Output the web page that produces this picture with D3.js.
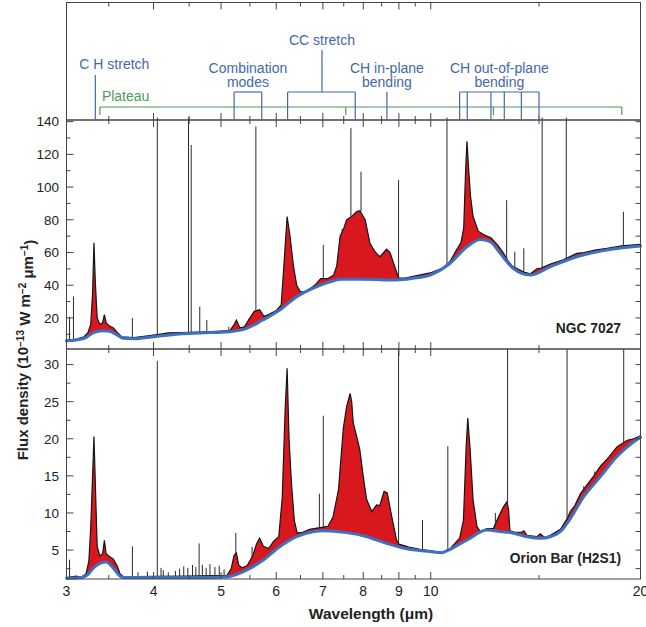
<!DOCTYPE html>
<html>
<head>
<meta charset="utf-8">
<script src="https://cdn.jsdelivr.net/npm/d3@7"></script>
<style>
  body { margin: 0; background: #fff; }
  text { font-family: "Liberation Sans", Arial, Helvetica, sans-serif; }
</style>
</head>
<body>
<svg width="646" height="627"></svg>
<script>
// ---- axis ticks ----
var xLabels = [3, 4, 5, 6, 7, 8, 9, 10, 20];
var xMajor = [4, 5, 6, 7, 8, 9, 10, 20];
var xMinor = [3.45, 4.5, 5.5, 6.5, 7.5, 8.5, 9.5, 14.3];
var ngcLabels = [20, 40, 60, 80, 100, 120, 140];
var ngcMinor = [10, 30, 50, 70, 90, 110, 130];
var orionLabels = [5, 10, 15, 20, 25, 30];
var orionMinor = [2.5, 7.5, 12.5, 17.5, 22.5, 27.5];

// ---- NGC 7027 : [wavelength um, flux] ----
var ngcContinuum = [[3.0,6],[3.1,6.5],[3.2,8],[3.28,11],[3.38,12.2],[3.46,11.8],[3.55,9.5],[3.62,7.5],
  [3.75,7.2],[4.0,8.5],[4.36,10.2],[4.66,10.8],[5.15,11.6],[5.44,13.6],[5.74,18.7],[6.07,24.8],
  [6.42,33],[6.77,38.1],[7.17,42.1],[7.41,43.6],[8.0,43.6],[8.94,43.2],[9.43,44.2],[9.98,46.2],
  [10.66,53.4],[11.27,63.5],[11.78,68],[12.17,66.6],[12.58,59.5],[13.13,50.3],[13.89,46.2],
  [14.85,51.3],[16.2,57.4],[17.9,61.5],[20,64]];
var ngcSpectrum = [[3.0,6.5],[3.1,7],[3.18,8.5],[3.22,11],[3.25,16],[3.27,35],[3.285,66],[3.30,42],
  [3.32,20],[3.35,16],[3.38,17],[3.40,22],[3.42,17],[3.46,15],[3.5,14],[3.55,11],[3.6,8.5],
  [3.75,8],[3.9,8.9],[4.05,9.8],[4.2,10.8],[4.36,11],[4.66,11.4],[5.0,12],[5.15,12.2],[5.22,16],
  [5.26,18.7],[5.32,14],[5.40,14.5],[5.5,20],[5.58,24],[5.68,25],[5.76,21],[5.85,22],[6.0,24.5],
  [6.1,28],[6.16,55],[6.22,82],[6.28,70],[6.35,52],[6.42,40],[6.5,36],[6.6,36],[6.77,39],[6.85,41],
  [6.95,44],[7.1,44],[7.25,46],[7.33,52],[7.41,70],[7.49,74],[7.57,80],[7.7,82],[7.83,85],[7.91,85.5],
  [8.05,80],[8.18,65.6],[8.3,61],[8.36,59.5],[8.45,57.4],[8.56,60],[8.64,62],[8.74,60],[8.89,50.5],
  [8.99,44.5],[9.2,44.3],[9.43,45.5],[9.98,47.5],[10.4,50.5],[10.66,54.5],[10.9,62],[11.05,66],
  [11.15,75],[11.22,110],[11.27,128],[11.33,112],[11.4,95],[11.5,82],[11.7,73],[11.9,71],[12.2,69],
  [12.5,64],[12.7,60],[12.9,55],[13.1,51.5],[13.4,49.5],[13.6,48],[13.9,47],[14.2,50],[14.4,50.5],
  [14.85,53],[15.5,55.5],[16.2,59.5],[16.6,60],[17.2,61.5],[17.9,62.5],[18.8,64],[20,65]];
// emission lines : [wavelength, base, peak]
var ngcLines = [[3.03,6.3,20.7],[3.07,6.5,33],[3.73,7.8,19.9],[4.05,9.5,142.5],[4.49,10.8,142.5],
  [4.53,10.8,125.7],[4.66,11.2,26.9],[4.77,11.3,18.7],[5.13,12,14.6],[5.61,24,137],[7.01,44,64.6],
  [7.46,72,74.6],[7.68,82,136],[7.94,85,109.4],[8.99,44.5,104.3],[10.55,52,142.5],[12.85,56,92],
  [13.2,50.5,60.5],[13.6,48,62.6],[14.45,50.5,142.5],[15.65,55.5,142.5],[18.9,64,84.9]];

// ---- Orion Bar (H2S1) ----
var orionContinuum = [[3.0,1.2],[3.15,1.3],[3.21,1.6],[3.28,2.6],[3.35,3.2],[3.42,3.4],[3.5,2.6],
  [3.57,1.6],[3.62,1.3],[4.0,1.3],[4.4,1.3],[4.8,1.3],[5.1,1.4],[5.44,2.3],[5.75,3.66],[6.07,5.45],
  [6.42,6.8],[6.8,7.5],[7.0,7.6],[7.57,7.35],[8.1,6.8],[8.64,5.9],[9.2,5.2],[9.98,4.8],[10.37,4.65],
  [10.66,5.1],[11.27,6.35],[12.04,7.7],[12.58,7.5],[13.1,7.3],[13.74,6.8],[14.4,6.6],[14.85,6.8],
  [15.35,7.5],[15.69,8.6],[16.58,12.2],[17.52,14.9],[18.5,17.6],[19.56,19.6],[20,20.2]];
var orionSpectrum = [[3.0,1.3],[3.1,1.5],[3.15,1.3],[3.2,1.8],[3.23,3.5],[3.25,8],[3.27,15],
  [3.285,20.3],[3.30,14],[3.32,5.5],[3.35,4.2],[3.38,4.5],[3.40,6.3],[3.42,4.5],[3.46,4.1],[3.5,3.8],
  [3.55,2.8],[3.58,1.8],[3.62,1.4],[4.0,1.45],[4.5,1.5],[5.1,1.6],[5.17,2.5],[5.22,4.3],[5.26,4.6],
  [5.3,3.0],[5.36,2.6],[5.45,2.9],[5.55,4.2],[5.62,5.8],[5.68,6.6],[5.75,5.5],[5.85,5.2],[5.95,6.2],
  [6.05,6.8],[6.12,12],[6.18,24],[6.22,29.5],[6.26,20],[6.31,14],[6.37,9],[6.43,7.3],[6.55,7.4],
  [6.7,7.8],[6.9,8.0],[7.12,8.2],[7.24,9.5],[7.37,13.1],[7.49,21.4],[7.57,24.3],[7.66,26.1],[7.7,25],
  [7.74,22.1],[7.83,20.3],[7.91,18.5],[8.0,14.9],[8.09,11.8],[8.23,10.2],[8.36,11.1],[8.45,11],
  [8.57,12.9],[8.66,12.7],[8.79,9.5],[8.93,6.35],[9.0,5.8],[9.3,5.4],[9.65,5.1],[10.0,4.9],
  [10.37,4.7],[10.66,5.2],[11.0,6.6],[11.14,9.05],[11.24,18.9],[11.3,22.8],[11.39,18.5],[11.5,11.75],
  [11.65,8.15],[11.78,7.5],[12.04,7.9],[12.3,7.9],[12.51,9.5],[12.72,10.85],[12.86,11.5],[12.93,10.5],
  [12.99,7.6],[13.2,7.4],[13.5,7.4],[13.6,7.6],[13.74,7.0],[14.2,6.8],[14.36,7.2],[14.57,6.7],
  [14.85,7.0],[15.35,7.8],[15.69,9.2],[15.86,10.2],[16.1,11],[16.4,12.6],[16.58,13.2],[17.14,15],
  [17.52,16.3],[18.0,17.5],[18.5,18.9],[19.14,19.8],[19.56,20.0],[20,20.4]];
var orionLines = [[3.03,1.3,3.7],[3.73,1.4,5.5],[3.80,1.4,2.0],[3.92,1.4,2.1],[4.05,1.45,30.5],
  [4.10,1.45,2.6],[4.13,1.45,2.3],[4.2,1.45,2.0],[4.3,1.45,2.2],[4.36,1.45,2.5],[4.42,1.5,2.8],
  [4.48,1.5,2.6],[4.55,1.5,3.0],[4.6,1.5,2.7],[4.65,1.5,5.9],[4.7,1.5,3.0],[4.76,1.5,2.6],
  [4.82,1.5,3.1],[4.9,1.5,2.7],[4.97,1.5,2.9],[5.05,1.6,2.4],[5.25,4.5,7.3],[5.54,4,5.45],
  [6.92,8,12.6],[7.01,8,23.1],[8.99,5.8,32.1],[9.73,5.1,9.05],[10.58,4.9,19],[12.38,8.2,10],
  [12.89,11,32.1],[15.69,9,32.1],[16.58,13,13.6],[17.19,15,15.6],[18.92,19.5,32.1]];

// ---- band annotations (wavelengths) ----
var chStretch = 3.3;
var plateau = [3.35, 18.8];
var plateauTicks = [7.55, 12.3];
var comboModes = [5.22, 5.72];
var ccStretch = [6.23, 7.79];
var ccStem = 6.98;
var chInPlane = 8.65;
var chOutOfPlane = [11.0, 11.28, 12.2, 12.75, 13.49, 14.3];

var svg = d3.select("svg"),
    left = 66.5, right = 640.5,
    annTop = 2.5, p1Top = 120, p1Bot = 349, p2Bot = 579;

var x = d3.scaleLog().domain([3, 20]).range([left, right]);
var y1 = d3.scaleLinear().domain([1, 141]).range([p1Bot, p1Top]);
var y2 = d3.scaleLinear().domain([1.1, 32.1]).range([p2Bot, p1Bot]);

var blue = "#4369a8", green = "#4f9a5c", ink = "#222";

//draw one spectrum panel
function drawPanel(y, spec, cont, lines, name, nameY) {
  var g = svg.append("g");
  var lin = d3.line().x(function(d) { return x(d[0]); }).y(function(d) { return y(d[1]); });
  var smooth = d3.line().curve(d3.curveMonotoneX)
      .x(function(d) { return x(d[0]); }).y(function(d) { return y(d[1]); });

  // red fill between spectrum and continuum
  g.append("path")
      .attr("d", lin(spec) + smooth(cont.slice().reverse()).replace(/^M/, "L") + "Z")
      .attr("fill", "#d8181e");
  g.append("path").datum(spec).attr("d", lin)
      .attr("fill", "none").attr("stroke", "#151515").attr("stroke-width", 1.2);
  g.selectAll("line.em").data(lines).enter().append("line")
      .attr("class", "em")
      .attr("x1", function(d) { return x(d[0]); }).attr("x2", function(d) { return x(d[0]); })
      .attr("y1", function(d) { return y(d[1]); }).attr("y2", function(d) { return y(d[2]); })
      .attr("stroke", "#2a2a2a").attr("stroke-width", 1);
  g.append("path").datum(cont).attr("d", smooth)
      .attr("fill", "none").attr("stroke", "#3d6fc2").attr("stroke-width", 3)
      .attr("stroke-linecap", "round");

  svg.append("text")
      .attr("x", 621).attr("y", nameY)
      .attr("text-anchor", "end")
      .style("font-size", "13.8px").style("font-weight", "bold").style("fill", ink)
      .text(name);
}

drawPanel(y1, ngcSpectrum, ngcContinuum, ngcLines, "NGC 7027", 333);
drawPanel(y2, orionSpectrum, orionContinuum, orionLines, "Orion Bar (H2S1)", 563);

// frames
[[annTop, p1Top], [p1Top, p1Bot], [p1Bot, p2Bot]].forEach(function(b) {
  svg.append("rect")
      .attr("x", left).attr("y", b[0])
      .attr("width", right - left).attr("height", b[1] - b[0])
      .attr("fill", "none").attr("stroke", "#444").attr("stroke-width", 1);
});

// x ticks, inward on every box edge
var axisG = svg.append("g").attr("stroke", "#444").attr("stroke-width", 1);
function xTicks(yTop, yBot) {
  xMajor.forEach(function(v) {
    axisG.append("line").attr("x1", x(v)).attr("x2", x(v)).attr("y1", yTop).attr("y2", yTop + 7);
    axisG.append("line").attr("x1", x(v)).attr("x2", x(v)).attr("y1", yBot).attr("y2", yBot - 7);
  });
  xMinor.forEach(function(v) {
    axisG.append("line").attr("x1", x(v)).attr("x2", x(v)).attr("y1", yTop).attr("y2", yTop + 4);
    axisG.append("line").attr("x1", x(v)).attr("x2", x(v)).attr("y1", yBot).attr("y2", yBot - 4);
  });
}
xTicks(annTop, p1Top);
xTicks(p1Top, p1Bot);
xTicks(p1Bot, p2Bot);

// y ticks and labels
function yTicks(y, labels, minor) {
  labels.forEach(function(v) {
    axisG.append("line").attr("x1", left).attr("x2", left + 7).attr("y1", y(v)).attr("y2", y(v));
    axisG.append("line").attr("x1", right).attr("x2", right - 5).attr("y1", y(v)).attr("y2", y(v));
    svg.append("text")
        .attr("x", 59).attr("y", y(v)).attr("dy", "0.36em")
        .attr("text-anchor", "end")
        .style("font-size", "13.5px").style("fill", ink)
        .text(v);
  });
  minor.forEach(function(v) {
    axisG.append("line").attr("x1", left).attr("x2", left + 4).attr("y1", y(v)).attr("y2", y(v));
    axisG.append("line").attr("x1", right).attr("x2", right - 5).attr("y1", y(v)).attr("y2", y(v));
  });
}
yTicks(y1, ngcLabels, ngcMinor);
yTicks(y2, orionLabels, orionMinor);

// x tick labels
xLabels.forEach(function(v) {
  svg.append("text")
      .attr("x", x(v)).attr("y", 596)
      .attr("text-anchor", "middle")
      .style("font-size", "14px").style("fill", ink)
      .text(v);
});

// axis titles
svg.append("text")
    .attr("x", 371).attr("y", 619)
    .attr("text-anchor", "middle")
    .style("font-size", "15.5px").style("font-weight", "bold").style("fill", ink)
    .text("Wavelength (\u03bcm)");

var yt = svg.append("text")
    .attr("transform", "translate(28,350) rotate(-90)")
    .attr("text-anchor", "middle")
    .style("font-size", "15px").style("font-weight", "bold").style("fill", ink);
yt.append("tspan").text("Flux density (10");
yt.append("tspan").attr("dy", "-0.45em").style("font-size", "10px").text("\u221213");
yt.append("tspan").attr("dy", "0.45em").text(" W m");
yt.append("tspan").attr("dy", "-0.45em").style("font-size", "10px").text("\u22122");
yt.append("tspan").attr("dy", "0.45em").text(" \u03bcm");
yt.append("tspan").attr("dy", "-0.45em").style("font-size", "10px").text("\u22121");
yt.append("tspan").attr("dy", "0.45em").text(")");

// ---- band annotations ----
var ann = svg.append("g").attr("fill", "none").attr("stroke-width", 1.2);
function seg(x1, y1_, x2, y2_, col) {
  ann.append("line").attr("x1", x1).attr("y1", y1_).attr("x2", x2).attr("y2", y2_).attr("stroke", col);
}
// one text element, one tspan per line
function label(lines, cx, by, col, anchor) {
  var t = svg.append("text")
      .attr("x", cx).attr("y", by)
      .attr("text-anchor", anchor || "middle")
      .style("font-size", "14px").style("fill", col);
  lines.forEach(function(s, i) {
    t.append("tspan").attr("x", cx).attr("dy", i ? 13.5 : 0).text(s);
  });
}
function bracket(a, b) {
  seg(x(a), 120, x(a), 92, blue);
  seg(x(a), 92, x(b), 92, blue);
  seg(x(b), 92, x(b), 120, blue);
}

// plateau (green)
seg(x(plateau[0]), 107, x(plateau[1]), 107, green);
plateau.concat(plateauTicks).forEach(function(v) { seg(x(v), 107, x(v), 115, green); });
label(["Plateau"], x(plateau[0]) + 2, 101, green, "start");

// CH stretch
seg(x(chStretch), 75, x(chStretch), 120, blue);
label(["C H stretch"], x(chStretch) + 19, 69, blue);

// combination modes
bracket(comboModes[0], comboModes[1]);
label(["Combination", "modes"], x(Math.sqrt(comboModes[0] * comboModes[1])), 73, blue);

// CC stretch
bracket(ccStretch[0], ccStretch[1]);
seg(x(ccStem), 50, x(ccStem), 92, blue);
label(["CC stretch"], x(ccStem), 45, blue);

// CH in-plane bending
seg(x(chInPlane), 92, x(chInPlane), 120, blue);
label(["CH in-plane", "bending"], x(chInPlane), 73, blue);

// CH out-of-plane bending
bracket(chOutOfPlane[0], chOutOfPlane[chOutOfPlane.length - 1]);
chOutOfPlane.slice(1, -1).forEach(function(v) { seg(x(v), 92, x(v), 120, blue); });
label(["CH out-of-plane", "bending"],
      (x(chOutOfPlane[0]) + x(chOutOfPlane[chOutOfPlane.length - 1])) / 2, 73, blue);
</script>
</body>
</html>
